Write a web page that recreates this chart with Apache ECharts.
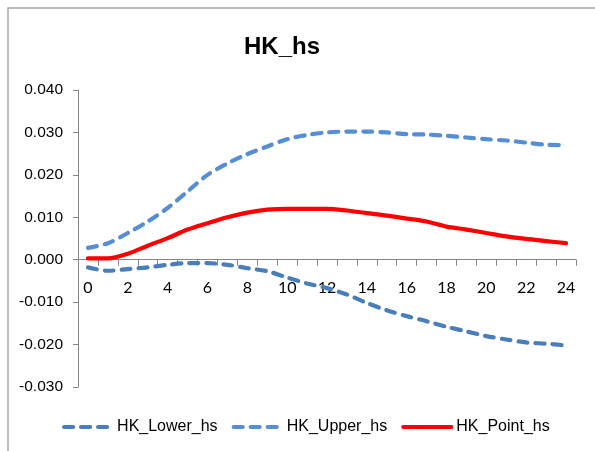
<!DOCTYPE html>
<html>
<head>
<meta charset="utf-8">
<script src="https://cdn.jsdelivr.net/npm/echarts@6/dist/echarts.min.js"></script>
<style>
  html, body { margin: 0; padding: 0; background: #fff; }
  #chart { width: 595px; height: 451px; }
</style>
</head>
<body>
<div id="chart"></div>
<script>
// Horizon (periods) and impulse-response bands for HK_hs
const periods = ['0','1','2','3','4','5','6','7','8','9','10','11','12','13','14','15','16','17','18','19','20','21','22','23','24'];

const lowerHs = [-0.0018, -0.0026, -0.0022, -0.0018, -0.0012, -0.0008, -0.0008, -0.0012, -0.0020, -0.0027,
                 -0.0042, -0.0056, -0.0067, -0.0082, -0.0102, -0.0119, -0.0133, -0.0145, -0.0158, -0.0169,
                 -0.0180, -0.0188, -0.0195, -0.0198, -0.0202];

const upperHs = [0.0028, 0.0039, 0.0063, 0.0090, 0.0122, 0.0161, 0.0200, 0.0227, 0.0249, 0.0267,
                 0.0284, 0.0294, 0.0300, 0.0302, 0.0302, 0.0300, 0.0296, 0.0295, 0.0292, 0.0288,
                 0.0284, 0.0281, 0.0276, 0.0271, 0.0270];

const pointHs = [0.0003, 0.0003, 0.0014, 0.0033, 0.0051, 0.0071, 0.0086, 0.0100, 0.0111, 0.0118,
                 0.0120, 0.0120, 0.0120, 0.0116, 0.0110, 0.0104, 0.0097, 0.0090, 0.0078, 0.0071,
                 0.0063, 0.0055, 0.0049, 0.0044, 0.0039];

const seriesNames = ['HK_Lower_hs', 'HK_Upper_hs', 'HK_Point_hs'];
const seriesColors = ['#4a7ebb', '#558ed5', '#ff0000'];

// value-axis range; the category axis sits on the zero line
const yMin = -0.03;
const yMax = 0.04;

const gridTop = 90;
const gridBottom = 64;
const chartHeight = 451;
const plotHeight = chartHeight - gridTop - gridBottom;
// lift the bottom axis from the grid edge up to y = 0
const zeroOffset = -plotHeight * (0 - yMin) / (yMax - yMin);

const chart = echarts.init(document.getElementById('chart'), null, { renderer: 'canvas' });

const dashed = (color) => ({ color: color, width: 4.2, type: [9, 8], cap: 'round' });

chart.setOption({
  animation: false,
  backgroundColor: '#ffffff',
  title: {
    text: 'HK_hs',
    left: 277,
    top: 30,
    textAlign: 'center',
    textStyle: { fontFamily: 'Liberation Sans, Arial, sans-serif', fontWeight: 'bold', fontSize: 24, color: '#000' }
  },
  graphic: [{
    type: 'polyline',
    shape: { points: [[8, 451], [8, 8], [595, 8]] },
    style: { stroke: '#a6a6a6', lineWidth: 1.5, fill: null },
    silent: true
  }],
  legend: {
    data: [
      { name: seriesNames[0], itemStyle: { opacity: 0 },
        lineStyle: { color: seriesColors[0], width: 4.2, type: [9, 8], cap: 'round' } },
      { name: seriesNames[1], itemStyle: { opacity: 0 },
        lineStyle: { color: seriesColors[1], width: 4.2, type: [9, 8], cap: 'round' } },
      { name: seriesNames[2], itemStyle: { opacity: 0 },
        lineStyle: { color: seriesColors[2], width: 4.2, cap: 'round' } }
    ],
    left: 57,
    top: 414,
    itemWidth: 48,
    itemHeight: 14,
    itemGap: 14,
    textStyle: { fontFamily: 'Liberation Sans, Arial, sans-serif', fontSize: 16, color: '#000' }
  },
  grid: { left: 78, right: 19, top: gridTop, bottom: gridBottom, containLabel: false },
  xAxis: {
    type: 'category',
    data: periods,
    boundaryGap: true,
    position: 'bottom',
    offset: zeroOffset,
    axisLine: { onZero: false, lineStyle: { color: '#868686', width: 1 } },
    axisTick: { show: true, interval: 0, length: 6, inside: false, lineStyle: { color: '#868686' } },
    axisLabel: { interval: 1, margin: 20, fontFamily: 'Lato, sans-serif', fontSize: 16, color: '#000' },
    splitLine: { show: false }
  },
  yAxis: {
    type: 'value',
    min: yMin,
    max: yMax,
    interval: 0.01,
    axisLine: { show: true, onZero: false, lineStyle: { color: '#868686', width: 1 } },
    axisTick: { show: true, length: 5, lineStyle: { color: '#868686' } },
    axisLabel: {
      margin: 15,
      fontFamily: 'Liberation Sans, Arial, sans-serif',
      fontSize: 15.5,
      color: '#000',
      formatter: (v) => v.toFixed(3)
    },
    splitLine: { show: false }
  },
  series: [
    { name: seriesNames[0], type: 'line', data: lowerHs, smooth: 0.3, symbol: 'none',
      lineStyle: dashed(seriesColors[0]), itemStyle: { color: seriesColors[0] }, z: 2 },
    { name: seriesNames[1], type: 'line', data: upperHs, smooth: 0.3, symbol: 'none',
      lineStyle: dashed(seriesColors[1]), itemStyle: { color: seriesColors[1] }, z: 3 },
    { name: seriesNames[2], type: 'line', data: pointHs, smooth: 0.3, symbol: 'none',
      lineStyle: { color: seriesColors[2], width: 4.2, cap: 'round' }, itemStyle: { color: seriesColors[2] }, z: 4 }
  ]
});
</script>
</body>
</html>
